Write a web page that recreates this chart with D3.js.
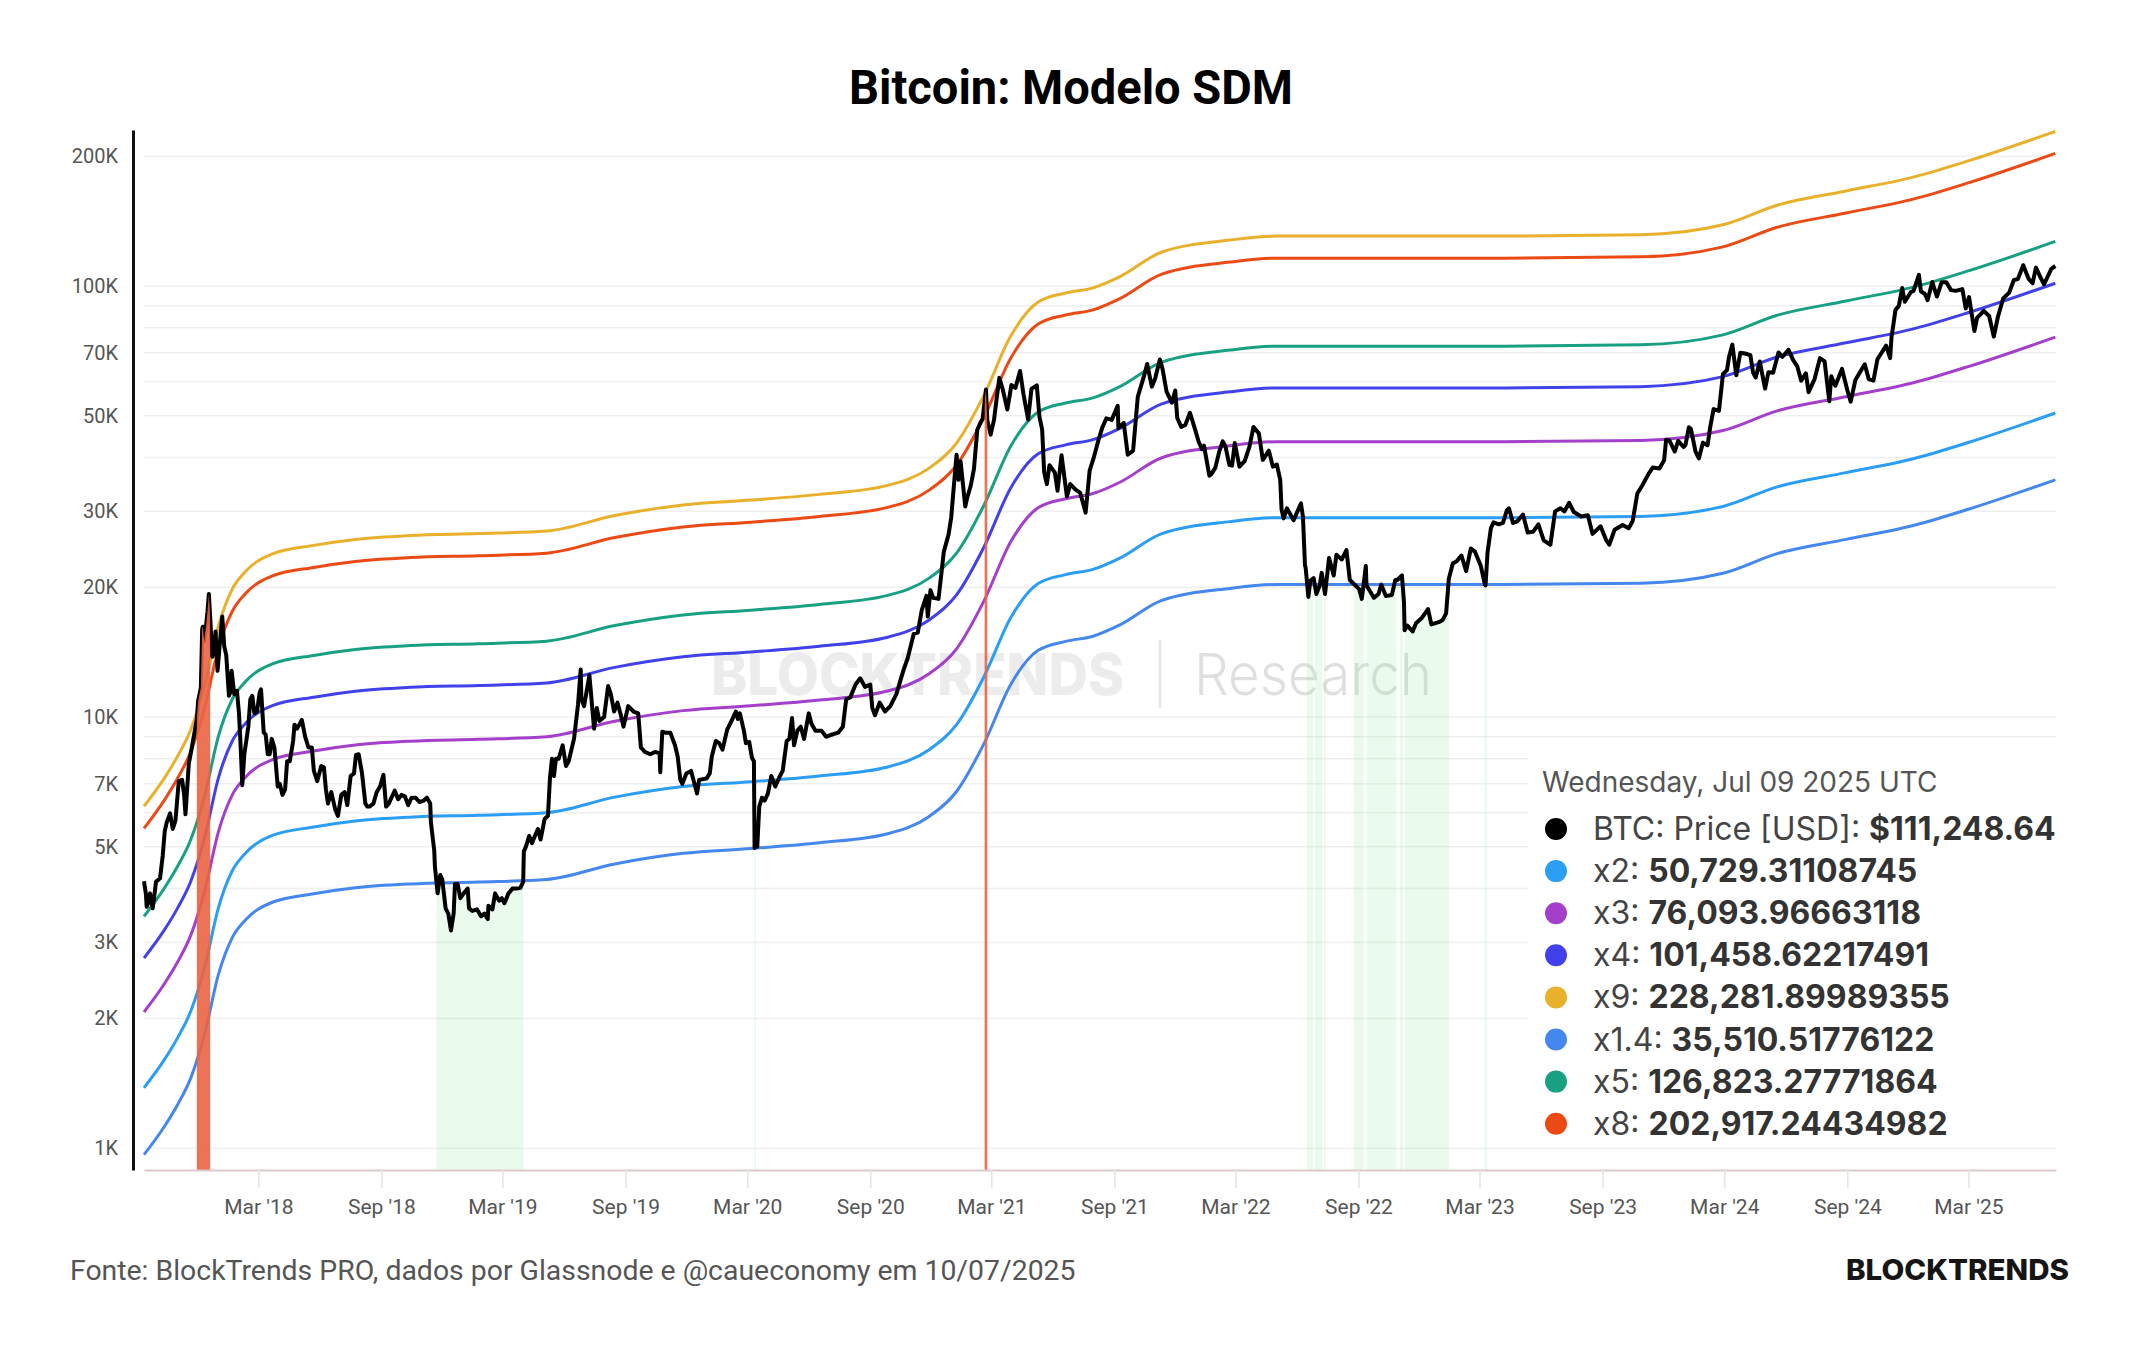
<!DOCTYPE html>
<html>
<head>
<meta charset="utf-8">
<script src="https://cdn.jsdelivr.net/npm/d3@7"></script>
<style>
  body { margin: 0; background: #fff; }
</style>
</head>
<body>
<div id="chart"></div>
<script>
// ---- data ----
var priceDates = ["2017-09-11","2017-09-14","2017-09-15","2017-09-17","2017-09-20","2017-09-24","2017-09-29","2017-10-05","2017-10-09","2017-10-12","2017-10-15","2017-10-20","2017-10-24","2017-10-28","2017-11-02","2017-11-07","2017-11-10","2017-11-12","2017-11-17","2017-11-20","2017-11-26","2017-11-29","2017-12-01","2017-12-05","2017-12-07","2017-12-08","2017-12-10","2017-12-13","2017-12-15","2017-12-17","2017-12-19","2017-12-22","2017-12-24","2017-12-27","2017-12-30",
"2018-01-03","2018-01-06","2018-01-09","2018-01-12","2018-01-16","2018-01-18","2018-01-20","2018-01-24","2018-01-28","2018-01-31","2018-02-02","2018-02-05","2018-02-08","2018-02-10","2018-02-14","2018-02-17","2018-02-20","2018-02-23","2018-02-27","2018-03-03","2018-03-05","2018-03-09","2018-03-12","2018-03-15","2018-03-18","2018-03-21","2018-03-25","2018-03-30","2018-04-02","2018-04-06","2018-04-10","2018-04-13","2018-04-17","2018-04-22","2018-04-24","2018-04-28","2018-05-05","2018-05-10","2018-05-15","2018-05-20","2018-05-23","2018-05-28","2018-06-03","2018-06-07","2018-06-10","2018-06-13","2018-06-18","2018-06-24","2018-06-28","2018-07-03","2018-07-08","2018-07-12","2018-07-17","2018-07-22","2018-07-25","2018-07-29","2018-08-03","2018-08-08","2018-08-11","2018-08-14","2018-08-20","2018-08-25","2018-08-30","2018-09-04","2018-09-08","2018-09-12","2018-09-16","2018-09-21","2018-09-26","2018-10-01","2018-10-06","2018-10-11","2018-10-16","2018-10-22","2018-10-28","2018-11-03","2018-11-08","2018-11-13","2018-11-14","2018-11-19","2018-11-20","2018-11-24","2018-11-25","2018-11-28","2018-12-01","2018-12-06","2018-12-10","2018-12-14","2018-12-18","2018-12-20","2018-12-24","2018-12-28",
"2019-01-02","2019-01-08","2019-01-10","2019-01-15","2019-01-22","2019-01-28","2019-02-02","2019-02-07","2019-02-08","2019-02-14","2019-02-18","2019-02-24","2019-02-28","2019-03-04","2019-03-10","2019-03-16","2019-03-22","2019-03-28","2019-04-01","2019-04-02","2019-04-05","2019-04-10","2019-04-14","2019-04-23","2019-04-27","2019-05-03","2019-05-08","2019-05-11","2019-05-14","2019-05-17","2019-05-20","2019-05-24","2019-05-30","2019-06-04","2019-06-08","2019-06-16","2019-06-22","2019-06-26","2019-06-27","2019-07-01","2019-07-09","2019-07-16","2019-07-20","2019-07-24","2019-07-31","2019-08-06","2019-08-10","2019-08-15","2019-08-20","2019-08-25","2019-08-29","2019-09-05","2019-09-13","2019-09-20","2019-09-24","2019-09-30","2019-10-08","2019-10-15","2019-10-22","2019-10-23","2019-10-26","2019-10-30","2019-11-07","2019-11-14","2019-11-18","2019-11-22","2019-11-25","2019-12-01","2019-12-08","2019-12-17","2019-12-20","2019-12-31",
"2020-01-05","2020-01-08","2020-01-14","2020-01-19","2020-01-24","2020-01-31","2020-02-08","2020-02-13","2020-02-16","2020-02-19","2020-02-25","2020-02-28","2020-03-04","2020-03-08","2020-03-11","2020-03-12","2020-03-13","2020-03-16","2020-03-19","2020-03-23","2020-03-27","2020-04-01","2020-04-06","2020-04-12","2020-04-18","2020-04-23","2020-04-29","2020-05-03","2020-05-07","2020-05-10","2020-05-15","2020-05-20","2020-05-25","2020-06-01","2020-06-05","2020-06-11","2020-06-20","2020-06-27","2020-07-05","2020-07-15","2020-07-22","2020-07-27","2020-08-02","2020-08-10","2020-08-17","2020-08-24","2020-09-01","2020-09-04","2020-09-08","2020-09-15","2020-09-23","2020-10-01","2020-10-10","2020-10-21","2020-10-27","2020-11-05","2020-11-11","2020-11-17","2020-11-24","2020-11-26","2020-11-30","2020-12-04","2020-12-12","2020-12-16","2020-12-20","2020-12-27","2020-12-31",
"2021-01-03","2021-01-08","2021-01-11","2021-01-14","2021-01-21","2021-01-24","2021-01-29","2021-02-03","2021-02-08","2021-02-12","2021-02-16","2021-02-21","2021-02-23","2021-02-28","2021-03-05","2021-03-09","2021-03-13","2021-03-18","2021-03-25","2021-03-31","2021-04-06","2021-04-13","2021-04-18","2021-04-25","2021-04-30","2021-05-08","2021-05-12","2021-05-16","2021-05-19","2021-05-23","2021-05-27","2021-06-04","2021-06-08","2021-06-14","2021-06-22","2021-06-27","2021-07-05","2021-07-12","2021-07-20","2021-07-26","2021-08-01","2021-08-08","2021-08-14","2021-08-20","2021-08-28","2021-09-06","2021-09-07","2021-09-15","2021-09-21","2021-09-29","2021-10-06","2021-10-15","2021-10-20","2021-10-27","2021-11-01","2021-11-08","2021-11-12","2021-11-18","2021-11-26","2021-12-01","2021-12-04","2021-12-10","2021-12-16","2021-12-23","2021-12-31",
"2022-01-05","2022-01-10","2022-01-13","2022-01-21","2022-01-24","2022-01-30","2022-02-05","2022-02-10","2022-02-14","2022-02-20","2022-02-24","2022-02-28","2022-03-07","2022-03-15","2022-03-22","2022-03-28","2022-04-05","2022-04-11","2022-04-20","2022-04-26","2022-05-02","2022-05-07","2022-05-09","2022-05-12","2022-05-17","2022-05-27","2022-06-01","2022-06-07","2022-06-10","2022-06-13","2022-06-14","2022-06-18","2022-06-21","2022-06-26","2022-06-30","2022-07-05","2022-07-08","2022-07-13","2022-07-19","2022-07-26","2022-07-30","2022-08-07","2022-08-14","2022-08-19","2022-08-26","2022-09-02","2022-09-06","2022-09-12","2022-09-13","2022-09-19","2022-09-24","2022-10-01","2022-10-05","2022-10-12","2022-10-21","2022-10-26","2022-10-29","2022-11-05","2022-11-08","2022-11-09","2022-11-13","2022-11-21","2022-11-26","2022-12-05","2022-12-14","2022-12-19","2022-12-30",
"2023-01-05","2023-01-10","2023-01-13","2023-01-14","2023-01-20","2023-01-26","2023-02-02","2023-02-09","2023-02-16","2023-02-22","2023-03-03","2023-03-09","2023-03-10","2023-03-13","2023-03-18","2023-03-22","2023-03-30","2023-04-05","2023-04-11","2023-04-14","2023-04-20","2023-04-26","2023-05-05","2023-05-12","2023-05-20","2023-05-28","2023-06-05","2023-06-15","2023-06-22","2023-06-30","2023-07-06","2023-07-13","2023-07-20","2023-07-31","2023-08-10","2023-08-17","2023-08-29","2023-09-06","2023-09-11","2023-09-19","2023-10-01","2023-10-10","2023-10-16","2023-10-23","2023-10-31","2023-11-09","2023-11-15","2023-11-25","2023-12-02","2023-12-05","2023-12-10","2023-12-18","2023-12-23","2023-12-31",
"2024-01-03","2024-01-08","2024-01-11","2024-01-18","2024-01-23","2024-01-29","2024-02-05","2024-02-09","2024-02-14","2024-02-22","2024-02-28","2024-03-05","2024-03-08","2024-03-13","2024-03-19","2024-03-25","2024-04-01","2024-04-09","2024-04-13","2024-04-17","2024-04-23","2024-05-01","2024-05-06","2024-05-13","2024-05-21","2024-05-27","2024-06-05","2024-06-12","2024-06-18","2024-06-24","2024-07-01","2024-07-05","2024-07-14","2024-07-22","2024-07-29","2024-08-05","2024-08-08","2024-08-14","2024-08-24","2024-09-01","2024-09-06","2024-09-13","2024-09-27","2024-10-03","2024-10-10","2024-10-16","2024-10-29","2024-11-04","2024-11-06","2024-11-12","2024-11-17","2024-11-22","2024-11-26","2024-12-05","2024-12-09","2024-12-17","2024-12-20","2024-12-26","2024-12-30",
"2025-01-06","2025-01-13","2025-01-20","2025-01-27","2025-02-03","2025-02-10","2025-02-20","2025-02-25","2025-03-02","2025-03-10","2025-03-14","2025-03-24","2025-04-01","2025-04-08","2025-04-14","2025-04-22","2025-05-01","2025-05-08","2025-05-14","2025-05-22","2025-05-30","2025-06-05","2025-06-10","2025-06-17","2025-06-22","2025-06-30","2025-07-03","2025-07-09"];

var priceValues = [4160,3870,3630,3700,3900,3600,4150,4230,4770,5430,5700,5980,5500,5750,7100,7150,6600,5950,7800,8250,9300,9900,10900,11700,16000,16200,15000,16400,17600,19300,17000,13800,14000,15800,12800,
15200,17100,14600,13900,11200,11400,12800,11300,11500,10200,8900,6950,8200,8600,9500,11000,11200,10200,10300,11400,11600,9200,9100,8200,8200,8900,8500,6900,7000,6600,6800,7900,7900,8800,9600,9400,9850,9000,8500,8500,7500,7100,7700,7650,6800,6300,6700,6100,5900,6600,6700,6250,7300,7400,8170,8200,7400,6300,6200,6200,6300,6700,6900,7350,6200,6300,6500,6750,6450,6600,6550,6250,6500,6500,6350,6400,6500,6300,5700,4900,4500,3900,4000,4300,4200,3600,3500,3200,3500,4100,4100,3800,
3900,4000,3600,3550,3580,3450,3500,3400,3650,3580,3900,3750,3800,3700,3900,4000,4000,4020,4150,4880,5000,5300,5100,5500,5200,5800,5900,7200,8000,7300,8000,8000,8600,7700,7900,8900,10700,12900,11000,10600,12500,9400,10500,9800,10000,11800,11300,10300,10800,10100,9500,10600,10300,10200,8500,8300,8200,8300,8250,7450,9250,9200,9200,8600,8100,7150,7000,7400,7500,6650,7150,7200,
7400,8100,8800,8700,8400,9350,9900,10300,9900,10200,9300,8700,8750,8050,7900,4970,5600,5000,6200,6500,6400,6650,7300,6900,7250,7500,8800,8900,9950,8600,9300,9500,8900,10200,9650,9300,9300,9000,9100,9200,9500,11000,11100,11900,12300,11750,11900,10500,10100,10800,10300,10600,11300,12900,13700,15600,15700,17700,19100,17100,19700,18900,18800,21300,24200,26500,29000,
33000,40600,35500,39200,30800,32300,34300,37600,46400,47900,49200,57500,48800,45200,48900,54900,61200,57600,51700,58900,58000,63500,56200,49000,57700,58800,49700,46400,37000,34700,38400,36900,33500,40500,32500,34700,33700,33100,29800,37300,39900,43800,47000,49300,48900,52700,46800,48100,40600,41500,55300,61600,65900,58400,61000,67500,64200,56900,53600,57200,49400,47100,47600,50800,46300,
43500,41800,42600,36300,36600,37900,41400,43600,42500,38400,38300,43200,38100,39300,42400,47100,45500,39500,41500,38100,38500,35500,30300,28900,30500,28600,29800,31300,29100,22500,22200,19000,20700,21000,19300,20200,21600,19300,23400,21300,23800,23200,24400,20800,20300,19800,18800,22400,20200,19500,18900,19300,20300,19100,19200,20800,20800,21300,18500,15900,16300,15800,16500,17000,17800,16400,16600,
16800,17400,19900,20900,22700,23000,23700,21800,24600,24200,22400,20300,20200,24100,27400,28300,28000,28200,30200,30500,28200,28400,29500,26800,26900,28000,25700,25100,30000,30500,30000,31400,29900,29200,29400,26600,27700,25800,25100,27200,27900,27400,28500,33000,34600,36700,37900,37700,39400,44000,43800,41300,43700,42300,
42800,47000,46600,41300,39800,43300,42700,47100,51800,51300,62400,63800,68300,73100,62100,70000,69700,69100,63000,61300,66800,57800,63100,62900,70100,68500,71100,67300,65200,60300,62700,56700,60800,68000,66800,54000,61700,58700,64200,57300,53900,60500,65800,60800,60300,67600,72700,68000,75900,88000,89900,98900,91900,96800,97400,106100,97200,95800,92700,
102100,94500,102000,102000,97800,97400,98300,88700,94200,78600,84300,87500,85200,76300,84600,93500,96500,103200,103700,111700,103900,101500,110300,104600,100900,107100,109600,111248.64];

// model base curve (x1); every band is this curve times its multiplier
var baseDates = ["2017-09-11","2017-10-11","2017-10-31","2017-11-20","2017-12-11","2017-12-31","2018-01-21","2018-02-10","2018-03-23","2018-05-23","2018-07-24","2018-10-14","2019-01-24","2019-05-06","2019-08-16","2019-11-26","2020-03-07","2020-06-17","2020-09-27","2020-11-28","2021-01-08","2021-02-18","2021-03-30","2021-05-10","2021-06-20","2021-07-31","2021-09-10","2021-11-10","2022-02-21","2022-05-01","2022-09-14","2023-04-07","2023-10-28","2024-02-28","2024-05-19","2024-08-30","2024-12-10","2025-03-02","2025-07-09"];
var baseValues = [690,800,900,1040,1320,1800,2200,2420,2660,2780,2870,2930,2960,3000,3260,3450,3540,3650,3830,4200,4800,6200,8500,10200,10700,11000,11700,13300,14200,14500,14500,14500,14600,15400,17100,18450,19900,21700,25364.66];

var bandNames = ["x2", "x3", "x4", "x9", "x1.4", "x5", "x8"];
var bandMultipliers = [2, 3, 4, 9, 1.4, 5, 8];
var bandColors = ["#2a9df4", "#a43fcb", "#4141eb", "#e9b02c", "#4487ee", "#18a083", "#ec4a14"];
var legendValues = ["50,729.31108745", "76,093.96663118", "101,458.62217491", "228,281.89989355", "35,510.51776122", "126,823.27771864", "202,917.24434982"];

// price above x8 (red) and below x1.4 (green)
var redStarts = ["2017-11-29", "2021-02-19"];
var redEnds = ["2017-12-19", "2021-02-23"];
var greenStarts = ["2018-11-22", "2020-03-12", "2022-06-16", "2022-06-28", "2022-07-12", "2022-08-25", "2022-09-13", "2022-11-02", "2022-11-09", "2023-03-09"];
var greenEnds = ["2019-04-01", "2020-03-14", "2022-06-25", "2022-07-09", "2022-07-14", "2022-09-09", "2022-10-28", "2022-11-07", "2023-01-14", "2023-03-12"];

var yTicks = [1000, 2000, 3000, 5000, 7000, 10000, 20000, 30000, 50000, 70000, 100000, 200000];
var xTicks = ["2018-03-01","2018-09-01","2019-03-01","2019-09-01","2020-03-01","2020-09-01","2021-03-01","2021-09-01","2022-03-01","2022-09-01","2023-03-01","2023-09-01","2024-03-01","2024-09-01","2025-03-01"];

// ---- layout ----
var width = 2144, height = 1350
var plotLeft = 144, plotRight = 2056, plotTop = 130, plotBottom = 1170

var parse = d3.utcParse("%Y-%m-%d")

var price = priceDates.map(function(d, i) { return {date: parse(d), value: priceValues[i]} })

var x = d3.scaleUtc()
  .domain([parse("2017-09-11"), parse("2025-07-10")])
  .range([plotLeft, plotRight])

var y = d3.scaleLog()
  .domain([890, 230000])
  .range([plotBottom, plotTop])

var svg = d3.select("#chart")
  .append("svg")
    .attr("width", width)
    .attr("height", height)
    .style("font-family", "Roboto, 'Open Sans', sans-serif")

// title
svg.append("text")
  .attr("x", 1071)
  .attr("y", 104)
  .attr("text-anchor", "middle")
  .attr("textLength", 444)
  .attr("lengthAdjust", "spacingAndGlyphs")
  .style("font-family", "Roboto")
  .style("font-weight", 700)
  .style("font-size", "48px")
  .style("fill", "#000")
  .text("Bitcoin: Modelo SDM")

// horizontal grid, one line per 1..9 x 10^n
var gridValues = []
;[1e3, 1e4, 1e5].forEach(function(p) {
  for (var k = 1; k <= 9; k++) {
    var v = k * p
    if (v >= y.domain()[0] && v <= y.domain()[1]) gridValues.push(v)
  }
})
svg.append("g")
  .selectAll("line")
  .data(gridValues)
  .enter()
  .append("line")
    .attr("x1", plotLeft)
    .attr("x2", plotRight)
    .attr("y1", function(d) { return y(d) })
    .attr("y2", function(d) { return y(d) })
    .attr("stroke", "#efefef")
    .attr("stroke-width", 1.5)

// watermark
var wm = svg.append("g")
wm.append("text")
  .attr("x", 711).attr("y", 695)
  .attr("textLength", 413).attr("lengthAdjust", "spacingAndGlyphs")
  .style("font-family", "Inter").style("font-weight", 800).style("font-size", "58px")
  .style("fill", "#000").style("opacity", 0.07)
  .text("BLOCKTRENDS")
wm.append("line")
  .attr("x1", 1160).attr("x2", 1160).attr("y1", 640).attr("y2", 708)
  .attr("stroke", "#000").attr("stroke-opacity", 0.1).attr("stroke-width", 2.5)
wm.append("text")
  .attr("x", 1194).attr("y", 695)
  .attr("textLength", 238).attr("lengthAdjust", "spacingAndGlyphs")
  .style("font-family", "Inter").style("font-weight", 300).style("font-size", "58px")
  .style("fill", "#000").style("opacity", 0.12)
  .text("Research")

// areas under the price curve for the signal periods
var priceArea = d3.area()
  .x(function(d) { return x(d.date) })
  .y0(plotBottom)
  .y1(function(d) { return y(d.value) })

function signalClip(id, starts, ends) {
  var cp = svg.append("clipPath").attr("id", id)
  cp.selectAll("rect")
    .data(starts)
    .enter()
    .append("rect")
      .attr("x", function(d) { return x(parse(d)) })
      .attr("width", function(d, i) { return Math.max(1.5, x(parse(ends[i])) - x(parse(d))) })
      .attr("y", plotTop)
      .attr("height", plotBottom - plotTop)
}
signalClip("green-clip", greenStarts, greenEnds)
signalClip("red-clip", redStarts, redEnds)

svg.append("path")
  .datum(price)
  .attr("d", priceArea)
  .attr("clip-path", "url(#green-clip)")
  .attr("fill", "#7fe08d")
  .attr("fill-opacity", 0.16)
  .attr("stroke", "none")

// model bands
var bandLine = d3.line()
  .x(function(d) { return x(d.date) })
  .y(function(d) { return y(d.value) })
  .curve(d3.curveMonotoneX)

bandMultipliers.forEach(function(m, j) {
  var data = baseDates.map(function(d, i) { return {date: parse(d), value: baseValues[i] * m} })
  svg.append("path")
    .datum(data)
    .attr("d", bandLine)
    .attr("fill", "none")
    .attr("stroke", bandColors[j])
    .attr("stroke-width", 3)
})

// price
svg.append("path")
  .datum(price)
  .attr("d", d3.line()
    .x(function(d) { return x(d.date) })
    .y(function(d) { return y(d.value) })
  )
  .attr("fill", "none")
  .attr("stroke", "#000")
  .attr("stroke-width", 4)
  .attr("stroke-linejoin", "round")

svg.append("path")
  .datum(price)
  .attr("d", priceArea)
  .attr("clip-path", "url(#red-clip)")
  .attr("fill", "#ea6444")
  .attr("fill-opacity", 0.9)

// y axis
var yAxis = svg.append("g")
  .attr("transform", "translate(133,0)")
  .call(d3.axisLeft(y)
    .tickValues(yTicks)
    .tickFormat(function(d) { return d / 1000 + "K" })
    .tickSize(0)
    .tickSizeOuter(0)
    .tickPadding(15))
yAxis.select(".domain").attr("stroke", "#111").attr("stroke-width", 3)
yAxis.selectAll("text")
  .style("font-family", "Roboto")
  .style("font-size", "20px")
  .style("fill", "#555")

// x axis
var xAxis = svg.append("g")
  .attr("transform", "translate(0," + plotBottom + ")")
  .call(d3.axisBottom(x)
    .tickValues(xTicks.map(parse))
    .tickFormat(d3.utcFormat("%b '%y"))
    .tickSize(18)
    .tickSizeOuter(0)
    .tickPadding(11))
xAxis.select(".domain").attr("stroke", "#dccaca").attr("stroke-width", 2)
xAxis.selectAll(".tick line").attr("stroke", "#e4e4e4").attr("stroke-width", 1.5)
xAxis.selectAll("text")
  .style("font-family", "Roboto")
  .style("font-size", "21px")
  .style("fill", "#555")

// legend / tooltip box
var lg = svg.append("g")
lg.append("rect")
  .attr("x", 1528).attr("y", 752).attr("width", 545).attr("height", 392)
  .attr("fill", "#fff")
lg.append("text")
  .attr("x", 1542).attr("y", 792)
  .style("font-family", "Inter").style("font-size", "28px").style("fill", "#555")
  .text("Wednesday, Jul 09 2025 UTC")

var rowNames = ["BTC: Price [USD]: "].concat(bandNames.map(function(n) { return n + ": " }))
var rowValues = ["$111,248.64"].concat(legendValues)
var rowColors = ["#000"].concat(bandColors)

rowNames.forEach(function(n, i) {
  var cy = 829 + i * 42.1
  lg.append("circle")
    .attr("cx", 1556).attr("cy", cy).attr("r", 11)
    .attr("fill", rowColors[i])
  var t = lg.append("text")
    .attr("x", 1593).attr("y", cy + 11)
    .style("font-family", "Inter").style("font-size", "32px")
  t.append("tspan").style("fill", "#444").text(n)
  t.append("tspan").style("fill", "#333").style("font-weight", 700).text(rowValues[i])
})

// footer
svg.append("text")
  .attr("x", 70).attr("y", 1280)
  .style("font-family", "Roboto").style("font-size", "28.4px").style("fill", "#555")
  .text("Fonte: BlockTrends PRO, dados por Glassnode e @caueconomy em 10/07/2025")

svg.append("text")
  .attr("x", 2069).attr("y", 1280)
  .attr("text-anchor", "end")
  .attr("textLength", 223).attr("lengthAdjust", "spacingAndGlyphs")
  .style("font-family", "Inter").style("font-weight", 800).style("font-size", "28px")
  .style("fill", "#151515")
  .text("BLOCKTRENDS")
</script>
</body>
</html>
